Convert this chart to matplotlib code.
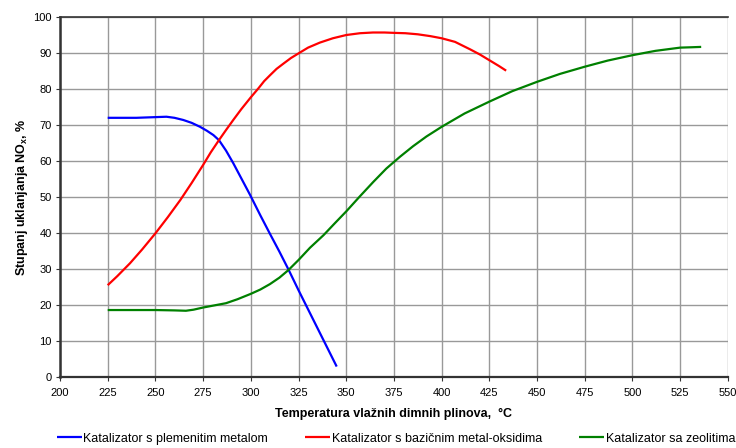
import matplotlib
matplotlib.use("Agg")
import matplotlib.pyplot as plt

plt.rcParams['font.family'] = ['Liberation Sans', 'DejaVu Sans']
plt.rcParams['mathtext.fontset'] = 'custom'
plt.rcParams['mathtext.rm'] = 'Liberation Sans'
plt.rcParams['mathtext.bf'] = 'Liberation Sans:bold'

# catalyst with noble metal
blue_t = [225, 240, 255.8, 260, 264.6, 269, 273.4, 277, 280.4, 283.3, 287, 290.8, 295,
          299.6, 305, 310, 315, 319.7, 325, 330, 335, 340, 345]
blue_y = [72.0, 72.0, 72.3, 72.0, 71.4, 70.6, 69.5, 68.4, 67.2, 65.8, 62.9, 59.4, 55.2,
          50.6, 44.9, 39.8, 34.8, 29.9, 24.1, 18.8, 13.5, 8.2, 2.9]

# catalyst with basic metal oxides
red_t = [225, 230, 236.7, 243, 250, 256.5, 263.1, 269, 275, 279, 283.3, 287, 290.8, 295,
         300, 304, 307, 310.2, 313.5, 317.2, 321, 325, 330, 336.2, 343, 350, 357.2, 364,
         370, 375, 381, 387.5, 394, 400, 407, 415, 420, 425, 430, 433.8]
red_y = [25.5, 28.0, 31.6, 35.4, 39.9, 44.4, 49.2, 53.9, 58.9, 62.4, 65.8, 68.6, 71.4, 74.4,
         77.7, 80.2, 82.2, 83.9, 85.6, 87.1, 88.6, 89.9, 91.5, 92.9, 94.1, 95.0, 95.5, 95.7,
         95.7, 95.6, 95.5, 95.2, 94.7, 94.1, 93.1, 91.0, 89.6, 88.0, 86.4, 85.1]

# catalyst with zeolites
green_t = [225, 250, 260, 266, 270, 275, 281, 287, 293, 300, 305, 310, 315, 319.7, 325, 331,
           338.1, 344, 350, 357, 364.2, 371, 378.2, 385, 392, 400, 412, 425, 437, 450, 462,
           475, 487, 500, 512, 525, 531, 536]
green_y = [18.6, 18.6, 18.5, 18.4, 18.7, 19.3, 19.9, 20.5, 21.6, 23.1, 24.3, 25.8, 27.6, 29.7,
           32.5, 35.9, 39.4, 42.7, 46.0, 50.1, 54.2, 57.9, 61.2, 64.1, 66.8, 69.5, 73.2, 76.5,
           79.4, 82.0, 84.2, 86.2, 87.9, 89.4, 90.6, 91.5, 91.6, 91.7]

labels = ['Katalizator s plemenitim metalom',
          'Katalizator s bazi\u010dnim metal-oksidima',
          'Katalizator sa zeolitima']

fig = plt.figure(figsize=(7.36, 4.48), dpi=100)
ax = fig.add_axes([0.0815, 0.1585, 0.9075, 0.8035])

kw = dict(lw=1.6, solid_joinstyle='round', solid_capstyle='butt')
ax.plot(blue_t, blue_y, color='#0000ff', label=labels[0], **kw)
ax.plot(red_t, red_y, color='#ff0000', label=labels[1], **kw)
ax.plot(green_t, green_y, color='#008000', label=labels[2], **kw)

ax.set_xlim(200, 550)
ax.set_ylim(0, 100)
ax.set_xticks(range(200, 551, 25))
ax.set_yticks(range(0, 101, 10))
ax.grid(True, color='#999999', lw=1.0)
ax.set_axisbelow(True)
ax.tick_params(labelsize=8, length=3, color='#333333')
ax.tick_params(axis='x', pad=5)
ax.tick_params(axis='y', pad=3)
for s in ['left', 'bottom', 'top']:
    ax.spines[s].set_color('#333333')
ax.spines['left'].set_linewidth(1.8)
ax.spines['bottom'].set_linewidth(1.6)
ax.spines['top'].set_linewidth(1.2)
ax.spines['right'].set_visible(False)

ax.set_xlabel('Temperatura vla\u017enih dimnih plinova,  \u00b0C', fontsize=9, fontweight='bold', labelpad=7)
ax.set_ylabel(r'Stupanj uklanjanja NO$_\mathbf{x}$, %', fontsize=9, fontweight='bold', labelpad=2)

fig.legend(loc='lower center', bbox_to_anchor=(0.538, -0.018), ncol=3, frameon=False,
           fontsize=9, handlelength=2.0, handletextpad=0.1, columnspacing=3.0)

fig.savefig('out.png', dpi=100)
